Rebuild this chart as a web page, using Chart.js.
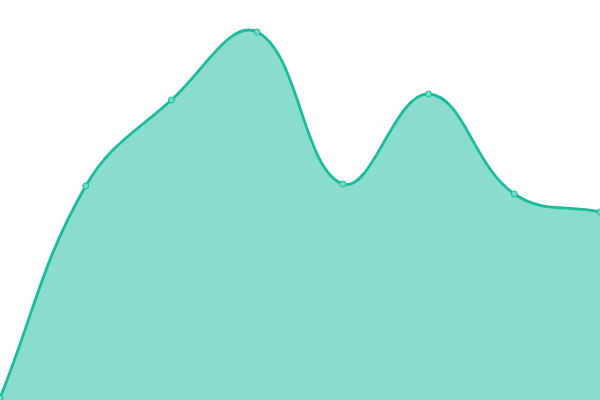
<!DOCTYPE html>
<html>
<head>
<meta charset="utf-8">
<script src="https://cdn.jsdelivr.net/npm/chart.js@4"></script>
<style>
  html, body { margin: 0; padding: 0; background: #fff; }
  #wrap { width: 600px; height: 400px; }
</style>
</head>
<body>
<div id="wrap"><canvas id="areaChart"></canvas></div>
<script>
const labels = ['1', '2', '3', '4', '5', '6', '7', '8'];
const values = [2, 214, 300, 368, 216, 306, 206, 188];

new Chart(document.getElementById('areaChart').getContext('2d'), {
    type: 'line',
    data: {
        labels: labels,
        datasets: [{
            data: values,
            borderColor: '#1abc9c',
            backgroundColor: 'rgba(26, 188, 156, 0.51)',
            borderWidth: 2.8,
            fill: true,
            tension: 0.4,
            pointRadius: 3,
            pointBorderWidth: 1,
            pointBackgroundColor: '#6fdcc4',
            pointBorderColor: '#1abc9c'
        }]
    },
    options: {
        responsive: true,
        maintainAspectRatio: false,
        animation: false,
        layout: { padding: 0, autoPadding: false },
        plugins: { legend: { display: false }, tooltip: { enabled: false } },
        scales: {
            x: { display: false },
            y: { display: false, min: 0, max: 400 }
        }
    }
});
</script>
</body>
</html>
